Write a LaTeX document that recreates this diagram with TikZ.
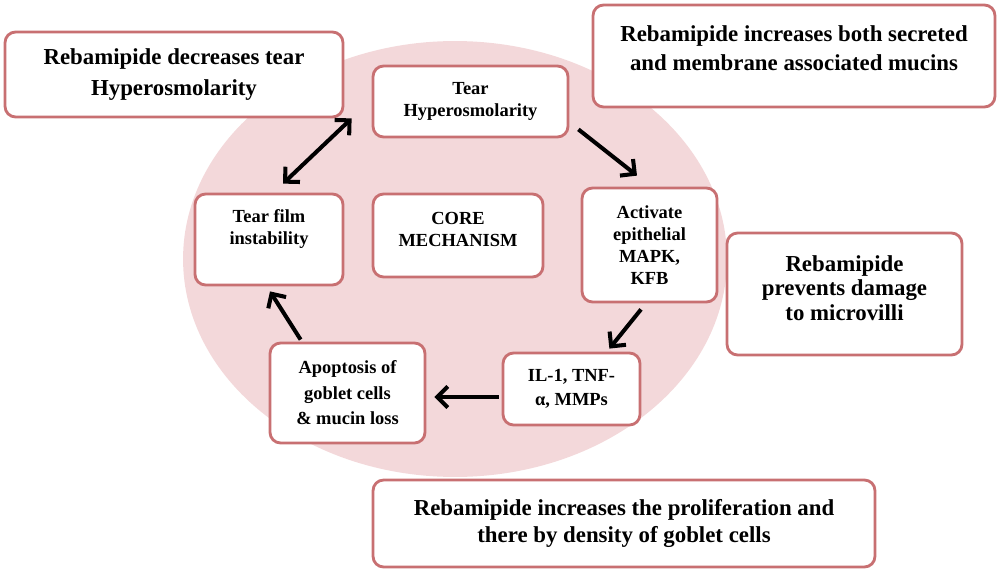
\documentclass[tikz,border=0pt]{standalone}
\usepackage{fontspec}
\setmainfont{Liberation Serif}
\usetikzlibrary{arrows.meta}
\definecolor{boxedge}{RGB}{200,112,114}
\definecolor{corefill}{RGB}{243,216,218}
\tikzset{>={Straight Barb[length=6pt,width=12pt]}}
\begin{document}
\begin{tikzpicture}[x=0.02cm, y=-0.02cm]
        \useasboundingbox (0,0) rectangle (1000,571);
        \fill[corefill] (455,259) ellipse [x radius=5.44cm, y radius=4.36cm];
        % the cycle inside the disc
        \begin{scope}[every node/.style={draw=boxedge, line width=1.6pt, rounded corners=6pt, fill=white, align=center, font=\bfseries\fontsize{10.5}{12.5}\selectfont}]
            \node (hyper) [minimum width=3.9cm, minimum height=1.42cm] at (470.5,101.5) {Tear\\Hyperosmolarity};
            \node (instab) [minimum width=2.96cm, minimum height=1.82cm] at (269,239.5) {Tear film\\instability\\[2pt]\mbox{}};
            \node (core) [minimum width=3.4cm, minimum height=1.66cm] at (458,235.5) {CORE\\MECHANISM\\[-5pt]\mbox{}};
            \node (mapk) [minimum width=2.7cm, minimum height=2.28cm] at (649.5,245) {Activate\\epithelial\\MAPK,\\KFB};
            \node (cytokine) [minimum width=2.74cm, minimum height=1.44cm, font=\bfseries\fontsize{10.5}{13.5}\selectfont] at (571.5,389) {IL-1, TNF-\\α, MMPs};
            \node (apoptosis) [minimum width=3.1cm, minimum height=2cm, font=\bfseries\fontsize{10.5}{14.5}\selectfont] at (347.5,393) {Apoptosis of\\goblet cells\\\& mucin loss};
        \end{scope}
        % what rebamipide does
        \begin{scope}[every node/.style={draw=boxedge, line width=1.6pt, rounded corners=6pt, fill=white, align=center, font=\bfseries\fontsize{13}{16.5}\selectfont}]
            \node (decrease) [minimum width=6.76cm, minimum height=1.7cm, font=\bfseries\fontsize{13}{18}\selectfont] at (174,74.5) {Rebamipide decreases tear\\Hyperosmolarity};
            \node (mucins) [minimum width=8.04cm, minimum height=2.04cm] at (794,56) {Rebamipide increases both secreted\\and membrane associated mucins\\[-7pt]\mbox{}};
            \node (microvilli) [minimum width=4.7cm, minimum height=2.44cm, font=\bfseries\fontsize{13}{14.2}\selectfont] at (844.5,294) {Rebamipide\\prevents damage\\to microvilli\\[-7.4pt]\mbox{}};
            \node (goblet) [minimum width=10.04cm, minimum height=1.74cm, font=\bfseries\fontsize{13}{15.3}\selectfont] at (624,523.5) {Rebamipide increases the proliferation and\\there by density of goblet cells};
        \end{scope}
        \begin{scope}[every edge/.style={draw, line width=2.3pt, ->}]
            \path
                ([shift={(-20,-20)}]hyper.south west) edge [<->] ([shift={(14,-9)}]instab.north)
                ([shift={(9,-9)}]hyper.south east) edge ([shift={(-12.5,-11)}]mapk.north)
                ([shift={(-8.5,6)}]mapk.south) edge ([shift={(-32,-3)}]cytokine.north east)
                ([shift={(-3,8)}]cytokine.west) edge ([shift={(8,4)}]apoptosis.east)
                ([shift={(32,-2)}]apoptosis.north west) edge ([shift={(1,5)}]instab.south);
        \end{scope}
\end{tikzpicture}
\end{document}
